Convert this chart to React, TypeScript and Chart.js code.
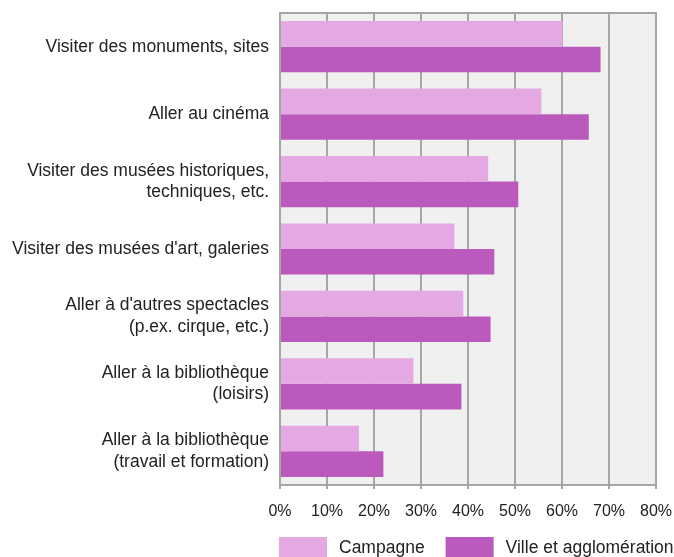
import React, { useEffect, useRef } from "react";
import { Chart, registerables } from "chart.js";

Chart.register(...registerables);

const categories: (string | string[])[] = [
  "Visiter des monuments, sites",
  "Aller au cinéma",
  ["Visiter des musées historiques,", "techniques, etc."],
  "Visiter des musées d'art, galeries",
  ["Aller à d'autres spectacles", "(p.ex. cirque, etc.)"],
  ["Aller à la bibliothèque", "(loisirs)"],
  ["Aller à la bibliothèque", "(travail et formation)"],
];
const campagne = [60.1, 55.6, 44.3, 37.1, 39.0, 28.4, 16.8];
const ville = [68.2, 65.7, 50.7, 45.6, 44.8, 38.6, 22.0];
const seriesNames = ["Campagne", "Ville et agglomération"];
const xMin = 0;
const xMax = 80;
const xStep = 10;

const FONT = "'Liberation Sans', Arial, sans-serif";
const GRID = "#a6a6a6";

const frame = {
  id: "frame",
  beforeDraw(chart: any) {
    const { ctx, chartArea: a } = chart;
    ctx.save();
    ctx.fillStyle = "#f0f0f0";
    ctx.fillRect(a.left, a.top, a.right - a.left, a.bottom - a.top);
    ctx.restore();
  },
  afterDatasetsDraw(chart: any) {
    const { ctx, chartArea: a } = chart;
    ctx.save();
    ctx.strokeStyle = GRID;
    ctx.lineWidth = 2;
    ctx.beginPath();
    ctx.moveTo(a.left - 1, a.top);
    ctx.lineTo(a.right + 1, a.top);
    ctx.stroke();
    ctx.restore();
  },
};

// legend drawn beneath the x axis, starting at the plot's left edge
const bottomLegend = {
  id: "bottomLegend",
  afterDraw(chart: any) {
    const { ctx, chartArea: a } = chart;
    const boxW = 48;
    const boxH = 22;
    const gapText = 12;
    const gapItem = 21;
    const top = a.bottom + 52;
    let x = a.left - 1;
    ctx.save();
    ctx.font = `17.5px ${FONT}`;
    ctx.textBaseline = "middle";
    ctx.textAlign = "left";
    chart.data.datasets.forEach((ds: any) => {
      ctx.fillStyle = ds.backgroundColor;
      ctx.fillRect(x, top, boxW, boxH);
      x += boxW + gapText;
      ctx.fillStyle = "#222";
      ctx.fillText(ds.label, x, top + boxH / 2);
      x += ctx.measureText(ds.label).width + gapItem;
    });
    ctx.restore();
  },
};

export default function App() {
  const ref = useRef<HTMLCanvasElement>(null);
  useEffect(() => {
    const chart = new Chart(ref.current!, {
      type: "bar",
      data: {
        labels: categories,
        datasets: [
          {
            label: seriesNames[0],
            data: campagne,
            backgroundColor: "#e4a9e3",
            borderWidth: 0,
            categoryPercentage: 0.76,
            barPercentage: 1,
          },
          {
            label: seriesNames[1],
            data: ville,
            backgroundColor: "#bc59bc",
            borderWidth: 0,
            categoryPercentage: 0.76,
            barPercentage: 1,
          },
        ],
      },
      options: {
        indexAxis: "y",
        responsive: false,
        animation: false,
        layout: { padding: { left: 0, right: 18, top: 13, bottom: 40 } },
        scales: {
          x: {
            min: xMin,
            max: xMax,
            ticks: {
              stepSize: xStep,
              callback: (v: any) => v + "%",
              color: "#222",
              font: { family: FONT, size: 16 },
              padding: 13,
              maxRotation: 0,
            },
            grid: { color: GRID, lineWidth: 2, tickLength: 4, drawTicks: true },
            border: { display: true, color: GRID, width: 2 },
            afterFit: (s: any) => {
              s.height = 32;
              s.paddingLeft = 0;
              s.paddingRight = 0;
            },
          },
          y: {
            ticks: {
              color: "#222",
              font: { family: FONT, size: 17.5, lineHeight: 1.23 },
              padding: 11,
              autoSkip: false,
            },
            grid: { display: false, drawTicks: false },
            border: { display: true, color: GRID, width: 2 },
            afterFit: (s: any) => {
              s.width = 280;
              s.paddingTop = 0;
              s.paddingBottom = 0;
            },
          },
        },
        plugins: {
          legend: { display: false },
          tooltip: { enabled: false },
        },
      },
      plugins: [frame, bottomLegend],
    });
    return () => chart.destroy();
  }, []);
  return (
    <div style={{ position: "fixed", left: 0, top: 0, width: 674, height: 557, overflow: "hidden", background: "#fff" }}>
      <canvas ref={ref} width={674} height={557} style={{ display: "block", width: 674, height: 557 }} />
    </div>
  );
}
